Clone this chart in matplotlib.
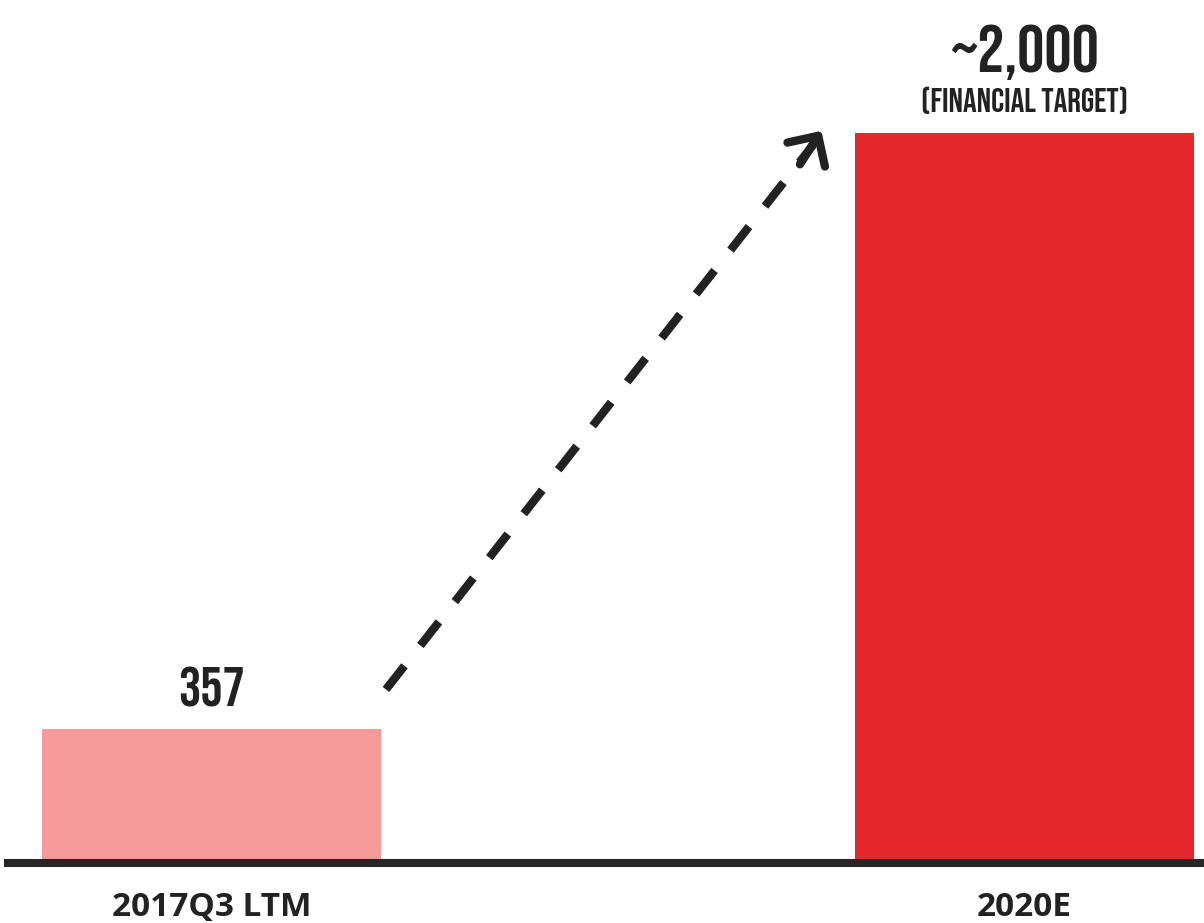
import matplotlib.pyplot as plt

categories = ['2017Q3 LTM', '2020E']
values = [357, 2000]
value_labels = ['357', '~2,000']
note = '(FINANCIAL TARGET)'
colors = ['#F79A9A', '#E5282B']

fig = plt.figure(figsize=(12.04, 9.23), dpi=100)
ax = fig.add_axes([0, 64 / 923, 1, 859 / 923])

pos = [0, 1]
ax.bar(pos, values, width=0.417, color=colors, zorder=2)
ax.set_xlim(-0.2601, 1.2208)
ax.set_ylim(0, 2366)
ax.axis('off')

# baseline
ax.axhline(-12, xmin=8 / 1204, xmax=1, color='#262626', lw=5.8, zorder=3, clip_on=False)

cond = ['Bebas Neue', 'Oswald', 'Roboto', 'DejaVu Sans']
plain = ['Open Sans', 'DejaVu Sans']
dark = '#222222'
ax.text(pos[0], values[0] + 62, value_labels[0], ha='center', va='baseline',
        fontsize=40, family=cond, color=dark)
ax.text(pos[1], values[1] + 168, value_labels[1], ha='center', va='baseline',
        fontsize=49, family=cond, color=dark)
ax.text(pos[1], values[1] + 58, note, ha='center', va='baseline',
        fontsize=24.5, family=cond, color=dark)

for p, c in zip(pos, categories):
    fig.text((p + 0.2601) / 1.4809, 7 / 923, c, ha='center', va='baseline',
             fontsize=24, fontweight='bold', family=plain, color=dark)

# dashed growth arrow
x0, y0 = 0.2146, values[0] + 110
x1, y1 = 0.752, values[1] + 12
ax.plot([x0, x1 - 0.012], [y0, y1 - 45], color=dark, lw=6, ls=(0, (3.6, 3.1)),
        solid_capstyle='butt', dash_capstyle='butt', zorder=4)
ax.annotate('', xy=(x1, y1), xytext=(x1 - 0.03, y1 - 105),
            arrowprops=dict(arrowstyle='->,head_length=1.6,head_width=1.6',
                            color=dark, lw=6, capstyle='round', joinstyle='round'),
            zorder=4)

fig.savefig('out.png', dpi=100)
